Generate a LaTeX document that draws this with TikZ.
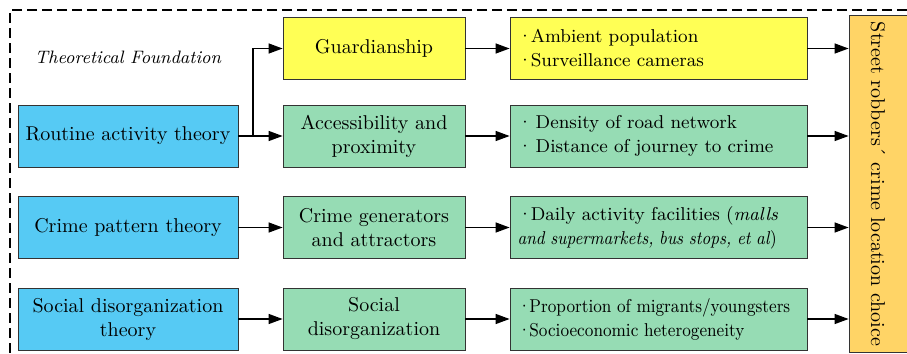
\documentclass[tikz,border=0pt]{standalone}
\usepackage{graphicx}
\usetikzlibrary{arrows.meta, positioning}
\definecolor{theoryblue}{RGB}{86,202,244}
\definecolor{guardyellow}{RGB}{255,255,85}
\definecolor{factorgreen}{RGB}{150,220,180}
\definecolor{choiceorange}{RGB}{255,212,102}
\newcommand{\bul}{\textperiodcentered\kern-0.8pt}
\newcommand{\squeeze}[1]{\scalebox{0.9}[1]{#1}}
\tikzstyle{theory} = [rectangle, minimum width=110pt, minimum height=31pt, align=center, draw=black!80, fill=theoryblue]
\tikzstyle{factor} = [rectangle, minimum width=91pt, minimum height=31pt, align=center, draw=black!80, fill=factorgreen]
\tikzstyle{measure} = [rectangle, text width=141pt, minimum height=31pt, inner xsep=3.75pt, align=left, font=\fontsize{9.3}{12}\selectfont, draw=black!80, fill=factorgreen]
\tikzstyle{choice} = [rectangle, rotate=-90, minimum width=166pt, minimum height=29pt, draw=black!80, fill=choiceorange]
\tikzstyle{arrow} = [->, >={Triangle[length=7pt,width=5pt]}, line width=0.65pt]

\begin{document}
\begin{tikzpicture}[x=0.5pt, y=-0.5pt]
\useasboundingbox (0,0) rectangle (907,354);

%Frame
\draw [dash pattern=on 5pt off 2.5pt, line width=0.6pt] (907,10) -- (10,10) -- (10,354);
\node (found) [font=\fontsize{9}{11}\selectfont] at (128,57) {\itshape Theoretical Foundation};

%Theories
\node (routine) [theory] at (128,136) {Routine activity theory};
\node (pattern) [theory] at (128,227.5) {Crime pattern theory};
\node (disorg) [theory] at (128,319) {Social disorganization\\theory};

%Factors
\node (guard) [factor, fill=guardyellow] at (374,48.5) {Guardianship};
\node (access) [factor] at (374,136) {Accessibility and\\proximity};
\node (generator) [factor] at (374,227.5) {Crime generators\\and attractors};
\node (social) [factor] at (374,319) {Social\\disorganization};

%Measures
\node (ambient) [measure, fill=guardyellow] at (658.5,48.5) {\bul Ambient population\\\bul Surveillance cameras};
\node (density) [measure] at (658.5,136) {\bul\kern2.5pt Density of road network\\\bul\kern2.5pt Distance of journey to crime};
\node (daily) [measure] at (658.5,227.5) {\bul Daily activity facilities (\textit{malls}\\\squeeze{\textit{and supermarkets, bus stops, et al})}};
\node (migrant) [measure] at (658.5,319) {\squeeze{\bul Proportion of migrants/youngsters}\\\squeeze{\bul Socioeconomic heterogeneity}};

%Choice
\node (choice) [choice] at (878,184) {Street robbers\textasciiacute{} crime location choice};
\coordinate (split) at (253,136);

\draw [arrow] (routine.east) -- (access.west);
\draw [arrow] (split) |- (guard.west);
\draw [arrow] (pattern.east) -- (generator.west);
\draw [arrow] (disorg.east) -- (social.west);

\draw [arrow] (guard.east) -- (ambient.west);
\draw [arrow] (access.east) -- (density.west);
\draw [arrow] (generator.east) -- (daily.west);
\draw [arrow] (social.east) -- (migrant.west);

\draw [arrow] (ambient.east) -- (ambient.east -| choice.south);
\draw [arrow] (density.east) -- (density.east -| choice.south);
\draw [arrow] (daily.east) -- (daily.east -| choice.south);
\draw [arrow] (migrant.east) -- (migrant.east -| choice.south);

\end{tikzpicture}
\end{document}
